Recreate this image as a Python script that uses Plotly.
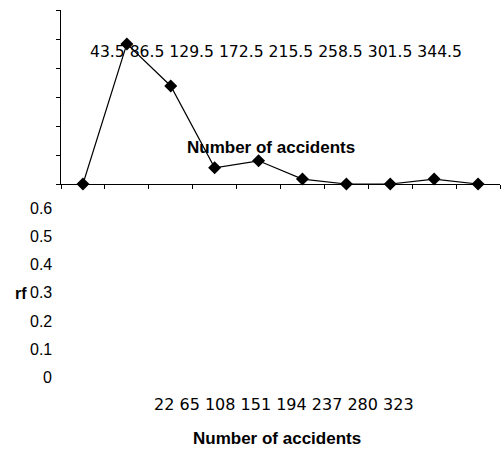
import plotly.graph_objects as go

# dados (polígono de frequências relativas)
pontos_medios = [-21, 22, 65, 108, 151, 194, 237, 280, 323, 366]
freq_relativa = [0.0, 0.483, 0.338, 0.056, 0.080, 0.017, 0.0, 0.0, 0.017, 0.0]
rotulos_meio = ["22", "65", "108", "151", "194", "237", "280", "323"]
rotulos_limite = ["43.5", "86.5", "129.5", "172.5", "215.5", "258.5", "301.5", "344.5"]
ticks_y = [0.6, 0.5, 0.4, 0.3, 0.2, 0.1, 0]

FONTE = "Arial, Liberation Sans, sans-serif"
FONTE_NUM = "DejaVu Sans, sans-serif"
L, T, W, H = 61, 10, 504, 452
PW, PH = 439, 174


def px(x):
    return (x - L) / PW


def py(y):
    return (T + PH - y) / PH


fig = go.Figure()
fig.add_trace(go.Scatter(
    x=[str(v) for v in pontos_medios],
    y=freq_relativa,
    mode="lines+markers",
    line=dict(color="black", width=1.2),
    marker=dict(symbol="diamond", size=10, color="black"),
    cliponaxis=False,
    showlegend=False,
    hoverinfo="skip",
))

tit = dict(family=FONTE, size=17, color="black")

anot = []
# rótulos de limites de classe (deslocados para dentro da área)
anot.append(dict(text=" ".join(rotulos_limite), x=px(276), y=py(52),
                 font=dict(family=FONTE_NUM, size=15.6, color="black")))
anot.append(dict(text="<b>Number of accidents</b>", x=px(271), y=py(147), font=tit))
# rótulos do eixo y deslocados para baixo
for i, v in enumerate(ticks_y):
    anot.append(dict(text=str(v), x=px(54), y=py(208 + i * 28.3), xanchor="right",
                     font=dict(family=FONTE, size=16, color="black")))
anot.append(dict(text="<b>rf</b>", x=px(21), y=py(293), font=dict(family=FONTE, size=16, color="black")))
anot.append(dict(text=" ".join(rotulos_meio), x=px(284), y=py(404),
                 font=dict(family=FONTE_NUM, size=16, color="black")))
anot.append(dict(text="<b>Number of accidents</b>", x=px(277), y=py(438), font=tit))

for a in anot:
    a.update(xref="paper", yref="paper", showarrow=False, yanchor="middle")
    a.setdefault("xanchor", "center")

fig.update_layout(
    width=W, height=H,
    margin=dict(l=L, r=W - L - PW, t=T, b=H - T - PH),
    paper_bgcolor="white",
    plot_bgcolor="white",
    font=dict(family=FONTE, size=15, color="black"),
    annotations=anot,
    hovermode=False,
    xaxis=dict(
        type="category",
        tickson="boundaries",
        showticklabels=False,
        ticks="outside", ticklen=4, tickcolor="black",
        showline=True, linecolor="black", linewidth=1,
        showgrid=False, zeroline=False,
        range=[-0.5, 9.5],
    ),
    yaxis=dict(
        range=[0, 0.6],
        dtick=0.1,
        showticklabels=False,
        ticks="outside", ticklen=4, tickcolor="black",
        showline=True, linecolor="black", linewidth=1,
        showgrid=False, zeroline=False,
    ),
)

fig.write_html("out.html", config={"displayModeBar": False},
               post_script="document.body.style.margin='0';")
